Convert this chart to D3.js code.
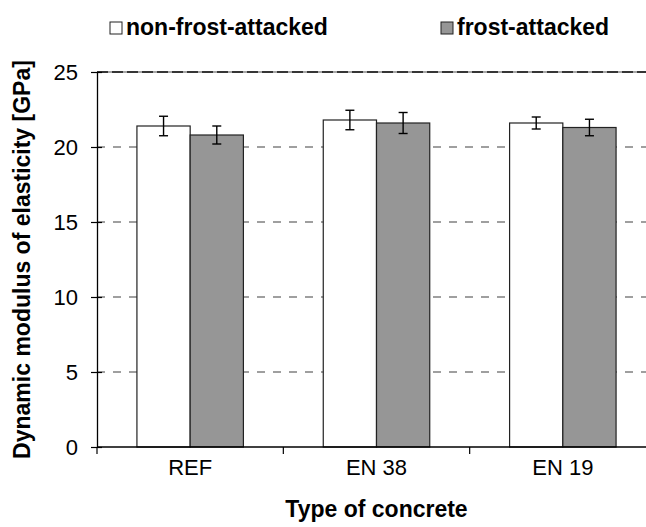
<!DOCTYPE html>
<html>
<head>
<meta charset="utf-8">
<script src="https://cdn.jsdelivr.net/npm/d3@7"></script>
<style>
  body { margin: 0; background: #fff; overflow: hidden; }
  svg { display: block; font-family: Arial, "Liberation Sans", sans-serif; }
</style>
</head>
<body>
<div id="chart"></div>
<script>
// data
const categories = ['REF', 'EN 38', 'EN 19'];
const seriesNames = ['non-frost-attacked', 'frost-attacked'];
const nonFrost = [21.4, 21.8, 21.6];
const frost = [20.8, 21.6, 21.3];
const nonFrostErr = [0.65, 0.65, 0.4];
const frostErr = [0.6, 0.7, 0.55];
const yTicks = [0, 5, 10, 15, 20, 25];

const colors = {'non-frost-attacked': '#ffffff', 'frost-attacked': '#969696'};

// size (plot area runs a little past the right edge, like the original)
let width = 646, height = 527;
let margin = {top: 72, right: -10, bottom: 80, left: 97};
let innerWidth = width - margin.left - margin.right;
let innerHeight = height - margin.top - margin.bottom;
let visibleWidth = width - margin.left; // lines stop at the picture edge

let rows = categories.map((c, i) => ({
    cat: c,
    values: [
        {key: seriesNames[0], v: nonFrost[i], e: nonFrostErr[i]},
        {key: seriesNames[1], v: frost[i], e: frostErr[i]}
    ]
}));

let xScale = d3.scaleBand().domain(categories).range([0, innerWidth]).paddingInner(0);
let x1 = d3.scaleBand().domain(seriesNames).range([0, xScale.bandwidth()]).paddingOuter(0.75).paddingInner(0);
let yScale = d3.scaleLinear().domain([0, 25]).range([innerHeight, 0]);

let svg = d3.select('#chart').append('svg')
    .attr('width', width)
    .attr('height', height);

let g = svg.append('g')
    .attr('transform', 'translate(' + margin.left + ',' + margin.top + ')');

// gridlines
g.selectAll('.grid')
    .data(yTicks.filter(d => d > 0 && d < 25))
    .join('line')
    .attr('class', 'grid')
    .attr('x1', 0).attr('x2', visibleWidth)
    .attr('y1', d => yScale(d)).attr('y2', d => yScale(d))
    .attr('stroke', '#808080')
    .attr('stroke-width', 1.3)
    .attr('stroke-dasharray', '8,8');

// top line (25)
g.append('line')
    .attr('x1', 0).attr('x2', visibleWidth)
    .attr('y1', yScale(25)).attr('y2', yScale(25))
    .attr('stroke', '#888').attr('stroke-width', 1.5);
g.append('line')
    .attr('x1', 0).attr('x2', visibleWidth)
    .attr('y1', yScale(25)).attr('y2', yScale(25))
    .attr('stroke', '#111').attr('stroke-width', 1.5)
    .attr('stroke-dasharray', '11,4');

// bars
let groups = g.selectAll('.group')
    .data(rows)
    .join('g')
    .attr('class', 'group')
    .attr('transform', d => 'translate(' + xScale(d.cat) + ',0)');

groups.selectAll('.bar')
    .data(d => d.values)
    .join('rect')
    .attr('class', 'bar')
    .attr('x', d => x1(d.key))
    .attr('y', d => yScale(d.v))
    .attr('width', x1.bandwidth())
    .attr('height', d => yScale(0) - yScale(d.v))
    .attr('fill', d => colors[d.key])
    .attr('stroke', '#222')
    .attr('stroke-width', 1.2);

// error bars
let err = groups.selectAll('.err')
    .data(d => d.values)
    .join('g')
    .attr('class', 'err')
    .attr('stroke', '#000')
    .attr('stroke-width', 1.4);
let cx = d => x1(d.key) + x1.bandwidth() / 2;
err.append('line')
    .attr('x1', cx).attr('x2', cx)
    .attr('y1', d => yScale(d.v + d.e)).attr('y2', d => yScale(d.v - d.e));
err.append('line')
    .attr('x1', d => cx(d) - 4.5).attr('x2', d => cx(d) + 4.5)
    .attr('y1', d => yScale(d.v + d.e)).attr('y2', d => yScale(d.v + d.e));
err.append('line')
    .attr('x1', d => cx(d) - 4.5).attr('x2', d => cx(d) + 4.5)
    .attr('y1', d => yScale(d.v - d.e)).attr('y2', d => yScale(d.v - d.e));

// y axis
let yAxis = d3.axisLeft(yScale).tickValues(yTicks).tickSizeInner(6).tickSizeOuter(0).tickPadding(13);
let yg = g.append('g').attr('class', 'y-axis').call(yAxis);
yg.select('.domain').attr('stroke', '#000').attr('stroke-width', 1.3);
yg.selectAll('.tick line').attr('x1', 5).attr('stroke', '#000').attr('stroke-width', 1.2);
yg.selectAll('.tick text').attr('font-size', 22).attr('font-family', 'Arial, "Liberation Sans", sans-serif').attr('fill', '#000');

// x axis
let xAxis = d3.axisBottom(xScale).tickSize(0).tickPadding(12);
let xg = g.append('g').attr('class', 'x-axis')
    .attr('transform', 'translate(0,' + innerHeight + ')')
    .call(xAxis);
xg.select('.domain').attr('d', 'M0,0H' + visibleWidth)
    .attr('stroke', '#000').attr('stroke-width', 1.5);
xg.selectAll('.tick text').attr('font-size', 22).attr('font-family', 'Arial, "Liberation Sans", sans-serif').attr('fill', '#000');
xg.selectAll('.boundary')
    .data(categories)
    .join('line')
    .attr('class', 'boundary')
    .attr('x1', d => xScale(d)).attr('x2', d => xScale(d))
    .attr('y1', 0).attr('y2', 7)
    .attr('stroke', '#000').attr('stroke-width', 1.2);

// axis titles
svg.append('text')
    .attr('x', margin.left + innerWidth / 2)
    .attr('y', 517)
    .attr('text-anchor', 'middle')
    .attr('font-size', 23)
    .attr('font-weight', 'bold')
    .text('Type of concrete');

svg.append('text')
    .attr('transform', 'translate(30,' + (margin.top + innerHeight / 2) + ') rotate(-90)')
    .attr('text-anchor', 'middle')
    .attr('font-size', 23)
    .attr('font-weight', 'bold')
    .text('Dynamic modulus of elasticity [GPa]');

// legend
let legendX = [110, 441];
let legend = svg.selectAll('.legend')
    .data(seriesNames)
    .join('g')
    .attr('class', 'legend')
    .attr('transform', (d, i) => 'translate(' + legendX[i] + ',22)');
legend.append('rect')
    .attr('width', 12).attr('height', 12)
    .attr('fill', d => colors[d])
    .attr('stroke', '#222').attr('stroke-width', 1);
legend.append('text')
    .attr('x', 16).attr('y', 12.5)
    .attr('font-size', 23)
    .attr('font-weight', 'bold')
    .text(d => d);
</script>
</body>
</html>
